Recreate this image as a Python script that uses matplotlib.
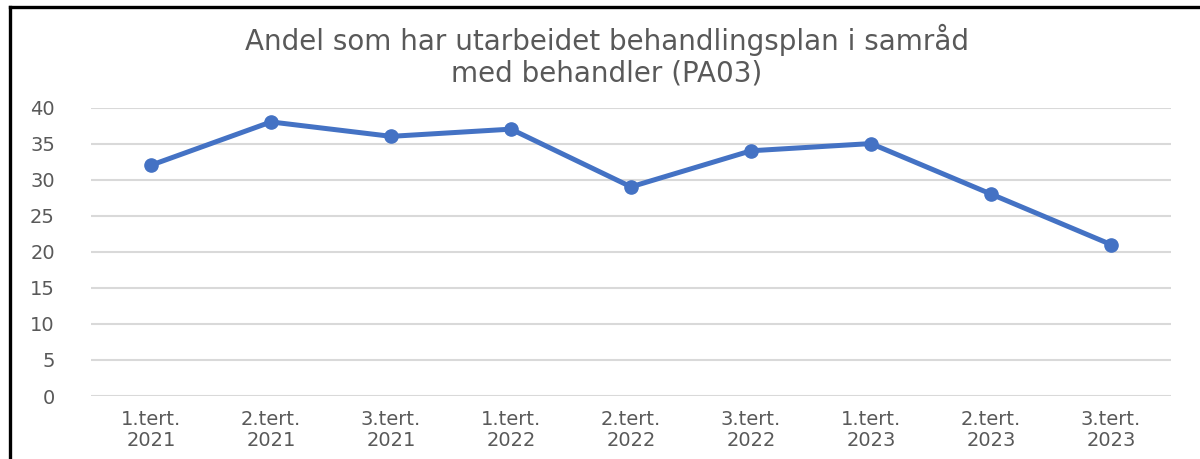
import matplotlib
matplotlib.use('Agg')
import matplotlib.pyplot as plt
from matplotlib.lines import Line2D

plt.rcParams['font.family'] = ['DejaVu Sans']

# data
categories = ['1.tert.\n2021', '2.tert.\n2021', '3.tert.\n2021',
              '1.tert.\n2022', '2.tert.\n2022', '3.tert.\n2022',
              '1.tert.\n2023', '2.tert.\n2023', '3.tert.\n2023']
values = [32, 38, 36, 37, 29, 34, 35, 28, 21]
yticks = [0, 5, 10, 15, 20, 25, 30, 35, 40]
title = 'Andel som har utarbeidet behandlingsplan i samråd\nmed behandler (PA03)'

W, H = 1200, 459
fig = plt.figure(figsize=(W / 100, H / 100), dpi=100)
fig.patch.set_facecolor('white')

ax = fig.add_axes([91 / W, 1 - 396 / H, 1080 / W, (396 - 107.5) / H])
x = list(range(len(categories)))
ax.plot(x, values, color='#4472C4', linewidth=3.6, marker='o',
        markersize=9.5, solid_capstyle='round', zorder=3)

ax.set_xlim(-0.5, len(categories) - 0.5)
ax.set_ylim(0, 40)
ax.set_yticks(yticks)
ax.set_xticks(x)
ax.set_xticklabels(categories, linespacing=1.15)
ax.grid(axis='y', color='#d9d9d9', linewidth=1.5)
ax.set_axisbelow(True)
for s in ax.spines.values():
    s.set_visible(False)
ax.tick_params(axis='both', length=0, colors='#595959', labelsize=14)
ax.tick_params(axis='y', pad=26)
ax.tick_params(axis='x', pad=10)

fig.text(607 / W, 1 - 56 / H, title, ha='center', va='center',
         fontsize=20, color='#595959', linespacing=1.15)

# black frame from the screenshot
fig.add_artist(Line2D([9.5 / W, 9.5 / W], [0, 1 - 7 / H], color='black',
                      linewidth=2.4, transform=fig.transFigure))
fig.add_artist(Line2D([9.5 / W, 1], [1 - 7 / H, 1 - 7 / H], color='black',
                      linewidth=2.4, transform=fig.transFigure))

fig.savefig('out.png', dpi=100)
